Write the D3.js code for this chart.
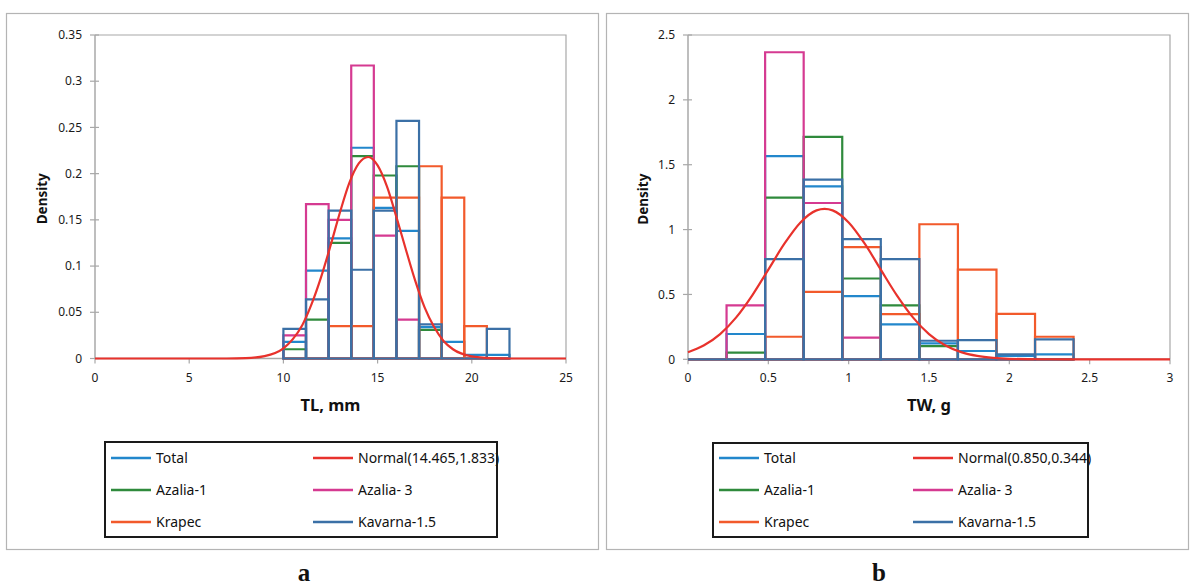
<!DOCTYPE html>
<html>
<head>
<meta charset="utf-8">
<script src="https://cdnjs.cloudflare.com/ajax/libs/d3/7.8.5/d3.min.js"></script>
<style>
  body { margin: 0; background: #fff; }
  svg { display: block; font-family: "Noto Sans", sans-serif; }
</style>
</head>
<body>
<svg id="chart" width="1192" height="588"></svg>
<script>
// legend / series names (draw order of the histograms follows this too)
const seriesNames = ["Total", "Normal", "Azalia-1", "Azalia- 3", "Krapec", "Kavarna-1.5"];
const seriesColors = ["#2287cc", "#e8322c", "#2f8a3c", "#d53a91", "#f25a2b", "#3b70a6"];

// ---- panel a : TL, mm ----
const tlEdges = [10, 11.2, 12.4, 13.6, 14.8, 16, 17.2, 18.4, 19.6, 20.8, 22];
const tlTotal = [0.018, 0.095, 0.130, 0.228, 0.163, 0.138, 0.034, 0.018, 0.004, 0.004];
const tlAzalia1 = [0.010, 0.042, 0.125, 0.219, 0.198, 0.208, 0.031, 0, 0, 0];
const tlAzalia3 = [0.025, 0.167, 0.150, 0.317, 0.133, 0.042, 0, 0, 0, 0];
const tlKrapec = [0, 0, 0.035, 0.035, 0.174, 0.174, 0.208, 0.174, 0.035, 0];
const tlKavarna = [0.032, 0.064, 0.160, 0.096, 0.160, 0.257, 0.037, 0, 0, 0.032];
const tlNormalX = [0, 7, 8, 9, 10, 10.5, 11, 11.5, 12, 12.5, 13, 13.5, 14, 14.5, 15, 15.5, 16, 16.5, 17, 17.5, 18, 18.5, 19, 20, 21, 22, 25];
const tlNormalY = [0, 0, 0.0004, 0.0026, 0.011, 0.021, 0.036, 0.059, 0.088, 0.122, 0.158, 0.19, 0.211, 0.218, 0.209, 0.186, 0.153, 0.118, 0.084, 0.055, 0.034, 0.019, 0.010, 0.0023, 0.0004, 0, 0];
const tlNormalLabel = "Normal(14.465,1.833)";
const tlXTicks = [0, 5, 10, 15, 20, 25];
const tlYTicks = [0, 0.05, 0.1, 0.15, 0.2, 0.25, 0.3, 0.35];
const tlYTickLabels = ["0", "0.05", "0.1", "0.15", "0.2", "0.25", "0.3", "0.35"];

// ---- panel b : TW, g ----
const twEdges = [0, 0.24, 0.48, 0.72, 0.96, 1.2, 1.44, 1.68, 1.92, 2.16, 2.4];
const twTotal = [0, 0.195, 1.567, 1.333, 0.487, 0.269, 0.123, 0.064, 0.026, 0.038];
const twAzalia1 = [0, 0.051, 1.246, 1.715, 0.623, 0.415, 0.102, 0, 0, 0];
const twAzalia3 = [0, 0.415, 2.367, 1.205, 0.167, 0, 0, 0, 0, 0];
const twKrapec = [0, 0, 0.174, 0.52, 0.864, 0.349, 1.041, 0.692, 0.35, 0.174];
const twKavarna = [0, 0, 0.772, 1.385, 0.926, 0.772, 0.143, 0.148, 0.038, 0.154];
const twNormalX = [0, 0.1, 0.2, 0.3, 0.4, 0.5, 0.6, 0.7, 0.8, 0.85, 0.9, 1.0, 1.1, 1.2, 1.3, 1.4, 1.5, 1.6, 1.7, 1.8, 1.9, 2.0, 2.2, 2.4, 2.6, 3.0];
const twNormalY = [0.055, 0.108, 0.194, 0.323, 0.493, 0.691, 0.891, 1.055, 1.148, 1.16, 1.148, 1.055, 0.891, 0.691, 0.493, 0.323, 0.194, 0.108, 0.055, 0.026, 0.011, 0.004, 0.0005, 0, 0, 0];
const twNormalLabel = "Normal(0.850,0.344)";
const twXTicks = [0, 0.5, 1, 1.5, 2, 2.5, 3];
const twXTickLabels = ["0", "0.5", "1", "1.5", "2", "2.5", "3"];
const twYTicks = [0, 0.5, 1, 1.5, 2, 2.5];
const twYTickLabels = ["0", "0.5", "1", "1.5", "2", "2.5"];

const svg = d3.select("#chart");

drawPanel({
    frame: [6, 13, 598, 549],
    plot: [95, 566, 358.5, 35],
    xDomain: [0, 25], yDomain: [0, 0.35],
    xTicks: tlXTicks, xTickLabels: tlXTicks.map(String),
    yTicks: tlYTicks, yTickLabels: tlYTickLabels,
    edges: tlEdges,
    bars: [tlTotal, tlAzalia1, tlAzalia3, tlKrapec, tlKavarna],
    normalX: tlNormalX, normalY: tlNormalY, normalLabel: tlNormalLabel,
    xTitle: "TL, mm", yTitleX: 42,
    legend: [105, 442, 497, 537], legendCol2: 202,
    letter: "a", letterX: 304
});

drawPanel({
    frame: [606, 13, 1188, 549],
    plot: [688, 1170, 359.3, 35],
    xDomain: [0, 3], yDomain: [0, 2.5],
    xTicks: twXTicks, xTickLabels: twXTickLabels,
    yTicks: twYTicks, yTickLabels: twYTickLabels,
    edges: twEdges,
    bars: [twTotal, twAzalia1, twAzalia3, twKrapec, twKavarna],
    normalX: twNormalX, normalY: twNormalY, normalLabel: twNormalLabel,
    xTitle: "TW, g", yTitleX: 643,
    legend: [713, 443, 1088, 537], legendCol2: 194,
    letter: "b", letterX: 879
});

function drawPanel(c) {
    var g = svg.append("g");
    // outer frame
    g.append("rect")
        .attr("x", c.frame[0] + 0.5).attr("y", c.frame[1] + 0.5)
        .attr("width", c.frame[2] - c.frame[0]).attr("height", c.frame[3] - c.frame[1])
        .attr("fill", "none").attr("stroke", "#b4b4b4").attr("stroke-width", 1.2);

    var x = d3.scaleLinear().domain(c.xDomain).range([c.plot[0], c.plot[1]]);
    var y = d3.scaleLinear().domain(c.yDomain).range([c.plot[2], c.plot[3]]);

    // plot area box (top + right)
    g.append("path")
        .attr("d", `M${x(c.xDomain[0])},${y(c.yDomain[1])}H${x(c.xDomain[1])}V${y(0)}`)
        .attr("fill", "none").attr("stroke", "#a8a8a8").attr("stroke-width", 1.2);

    // y axis (ticks cross the line)
    var yAxis = g.append("g").attr("transform", `translate(${x(c.xDomain[0])},0)`);
    yAxis.append("line").attr("y1", y(0)).attr("y2", y(c.yDomain[1]))
        .attr("stroke", "#a8a8a8").attr("stroke-width", 1.5);
    c.yTicks.forEach(function(t, i) {
        yAxis.append("line").attr("x1", -5).attr("x2", 4).attr("y1", y(t)).attr("y2", y(t))
            .attr("stroke", "#a8a8a8").attr("stroke-width", 1.2);
        yAxis.append("text").attr("x", -13).attr("y", y(t)).attr("dy", "0.35em")
            .attr("text-anchor", "end").attr("font-size", 12).attr("fill", "#1a1a1a")
            .text(c.yTickLabels[i]);
    });

    // x axis (ticks below)
    var xAxis = g.append("g").attr("transform", `translate(0,${y(0)})`);
    xAxis.append("line").attr("x1", x(c.xDomain[0])).attr("x2", x(c.xDomain[1]))
        .attr("stroke", "#a8a8a8").attr("stroke-width", 1.5);
    c.xTicks.forEach(function(t, i) {
        xAxis.append("line").attr("x1", x(t)).attr("x2", x(t)).attr("y1", 0).attr("y2", 5)
            .attr("stroke", "#a8a8a8").attr("stroke-width", 1.2);
        xAxis.append("text").attr("x", x(t)).attr("y", 23)
            .attr("text-anchor", "middle").attr("font-size", 12).attr("fill", "#1a1a1a")
            .text(c.xTickLabels[i]);
    });

    // axis titles
    g.append("text")
        .attr("transform", `translate(${c.yTitleX},${(y(0) + y(c.yDomain[1])) / 2 + 2}) rotate(-90)`)
        .attr("text-anchor", "middle").attr("dy", "0.35em")
        .attr("font-size", 13.5).attr("font-weight", "bold").attr("fill", "#111")
        .text("Density");
    g.append("text")
        .attr("x", (c.plot[0] + c.plot[1]) / 2).attr("y", 411)
        .attr("text-anchor", "middle").attr("font-size", 16.5).attr("font-weight", "bold").attr("fill", "#111")
        .text(c.xTitle);

    // histograms as open step boxes, one per bin
    var barColors = [seriesColors[0], seriesColors[2], seriesColors[3], seriesColors[4], seriesColors[5]];
    c.bars.forEach(function(vals, s) {
        g.append("g").selectAll("path")
            .data(vals)
            .join("path")
            .attr("d", function(v, i) {
                return `M${x(c.edges[i])},${y(0)}V${y(v)}H${x(c.edges[i + 1])}V${y(0)}Z`;
            })
            .attr("fill", "none")
            .attr("stroke", barColors[s])
            .attr("stroke-width", 2.2)
            .attr("stroke-linejoin", "miter");
    });

    // fitted normal curve
    var pts = c.normalX.map(function(v, i) { return [v, c.normalY[i]]; });
    var line = d3.line()
        .x(function(d) { return x(d[0]); })
        .y(function(d) { return y(d[1]); })
        .curve(d3.curveMonotoneX);
    g.append("path").datum(pts)
        .attr("d", line)
        .attr("fill", "none").attr("stroke", seriesColors[1]).attr("stroke-width", 2.2);

    // legend
    var L = c.legend;
    var lg = g.append("g");
    var rows = [[0, 1], [2, 3], [4, 5]];
    var rowY = [458, 490, 522];
    rows.forEach(function(pair, r) {
        pair.forEach(function(si, col) {
            var lx = L[0] + 6 + col * c.legendCol2;
            lg.append("line").attr("x1", lx).attr("x2", lx + 40)
                .attr("y1", rowY[r]).attr("y2", rowY[r])
                .attr("stroke", seriesColors[si]).attr("stroke-width", 2.5);
            lg.append("text").attr("x", lx + 45).attr("y", rowY[r]).attr("dy", "0.35em")
                .attr("font-size", 14).attr("fill", "#111")
                .text(si === 1 ? c.normalLabel : seriesNames[si]);
        });
    });
    lg.append("rect")
        .attr("x", L[0]).attr("y", L[1])
        .attr("width", L[2] - L[0]).attr("height", L[3] - L[1])
        .attr("fill", "none").attr("stroke", "#1a1a1a").attr("stroke-width", 2);

    // panel letter
    g.append("text")
        .attr("x", c.letterX).attr("y", 581)
        .attr("text-anchor", "middle")
        .attr("font-family", "'Liberation Serif', serif")
        .attr("font-size", 25).attr("font-weight", "bold").attr("fill", "#111")
        .text(c.letter);
}
</script>
</body>
</html>
